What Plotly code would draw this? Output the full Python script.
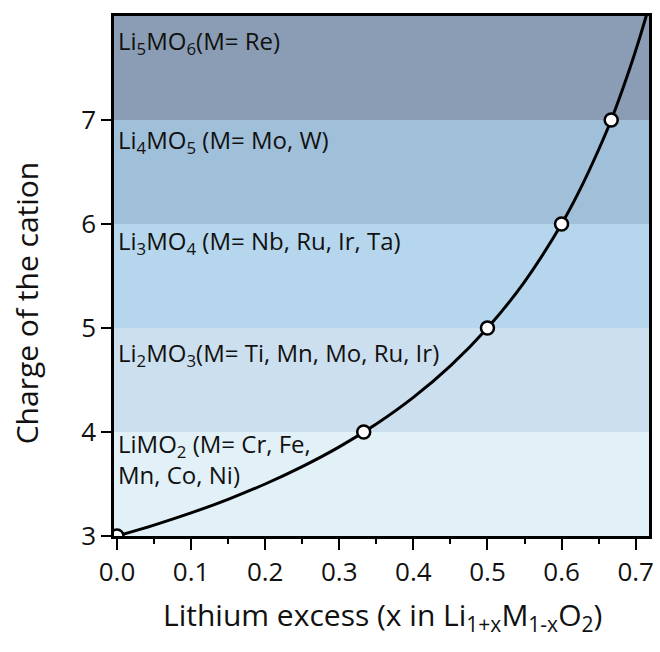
import plotly.graph_objects as go

# ---- data ----
curve_x = [0.0, 0.05, 0.10, 0.15, 0.20, 0.25, 0.30, 0.35, 0.40, 0.45, 0.50,
           0.55, 0.60, 0.625, 0.65, 0.667, 0.69, 0.705, 0.72]
curve_y = [3.0, 3.105, 3.222, 3.353, 3.5, 3.667, 3.857, 4.077, 4.333, 4.636, 5.0,
           5.444, 6.0, 6.333, 6.714, 7.0, 7.452, 7.78, 8.143]

point_x = [0.0, 0.333, 0.5, 0.6, 0.667]
point_y = [3, 4, 5, 6, 7]

band_lo = [3, 4, 5, 6, 7]
band_hi = [4, 5, 6, 7, 8]
band_colors = ["#E2F0F7", "#CCDFEF", "#B5D6EC", "#A0BFD9", "#8B9DB4"]

band_labels = [
    "LiMO<sub>2</sub> (M= Cr, Fe,<br>Mn, Co, Ni)",
    "Li<sub>2</sub>MO<sub>3</sub>(M= Ti, Mn, Mo, Ru, Ir)",
    "Li<sub>3</sub>MO<sub>4</sub> (M= Nb, Ru, Ir, Ta)",
    "Li<sub>4</sub>MO<sub>5</sub> (M= Mo, W)",
    "Li<sub>5</sub>MO<sub>6</sub>(M= Re)",
]
label_y = [3.74, 4.75, 5.83, 6.80, 7.75]

x_ticks = [0.0, 0.1, 0.2, 0.3, 0.4, 0.5, 0.6, 0.7]
x_ticklabels = ["0.0", "0.1", "0.2", "0.3", "0.4", "0.5", "0.6", "0.7"]
y_ticks = [3, 4, 5, 6, 7]

FONT = "Open Sans"
TXT = "#111111"

fig = go.Figure()

for lo, hi, c in zip(band_lo, band_hi, band_colors):
    fig.add_shape(type="rect", xref="paper", yref="y", x0=0, x1=1, y0=lo, y1=hi,
                  fillcolor=c, line=dict(width=0), layer="below")

fig.add_trace(go.Scatter(x=curve_x, y=curve_y, mode="lines",
                         line=dict(color="black", width=3, shape="spline"),
                         hoverinfo="skip", showlegend=False))
fig.add_trace(go.Scatter(x=point_x, y=point_y, mode="markers",
                         marker=dict(size=13, color="white",
                                     line=dict(color="black", width=2.5)),
                         showlegend=False))

for txt, yv in zip(band_labels, label_y):
    fig.add_annotation(x=0, xref="paper", y=yv, yref="y", text=txt,
                       showarrow=False, xanchor="left", yanchor="middle",
                       align="left", xshift=2,
                       font=dict(family=FONT, size=24, color=TXT))

fig.add_annotation(x=0, xref="paper", xshift=-88, y=0.4475, yref="paper",
                   text="Charge of the cation", textangle=-90, showarrow=False,
                   xanchor="center", yanchor="middle",
                   font=dict(family=FONT, size=30, color=TXT))
fig.add_annotation(x=0.502, xref="paper", y=0, yref="paper", yshift=-80,
                   text="Lithium excess (x in Li<sub>1+x</sub>M<sub>1-x</sub>O<sub>2</sub>)",
                   showarrow=False, xanchor="center", yanchor="middle",
                   font=dict(family=FONT, size=30, color=TXT))

fig.update_xaxes(range=[-0.004, 0.718], tickvals=x_ticks, ticktext=x_ticklabels,
                 showgrid=False, zeroline=False, showline=True, linecolor="black",
                 linewidth=2.5, mirror=True, ticks="outside", ticklen=11,
                 tickwidth=2, tickcolor="black",
                 tickfont=dict(family=FONT, size=26, color=TXT),
                 minor=dict(dtick=0.05, tick0=0, ticks="outside", ticklen=5,
                            tickwidth=2, tickcolor="black", showgrid=False))
fig.update_yaxes(range=[3, 8.0], tickvals=y_ticks,
                 showgrid=False, zeroline=False, showline=True, linecolor="black",
                 linewidth=2.5, mirror=True, ticks="outside", ticklen=10,
                 tickwidth=2, tickcolor="black",
                 tickfont=dict(family=FONT, size=26, color=TXT))

fig.update_layout(width=660, height=652,
                  margin=dict(l=114, r=6, t=16, b=116),
                  paper_bgcolor="white", plot_bgcolor="white",
                  font=dict(family=FONT))

fig.write_html("out.html")
